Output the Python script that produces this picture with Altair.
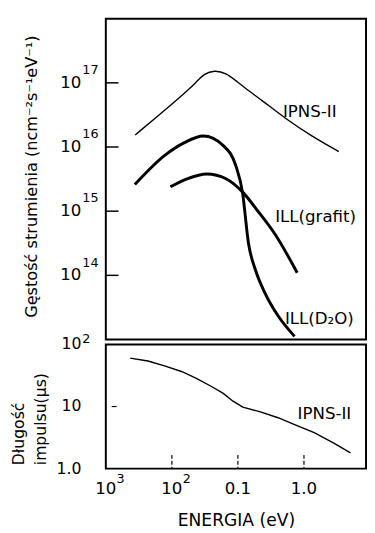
import altair as alt
import pandas as pd

FONT = "DejaVu Sans"

# ---- data (energy in eV) ----
ipns_E = [0.00278, 0.00774, 0.0153, 0.0239, 0.0303, 0.0441, 0.0664, 0.0933, 0.1455, 0.234, 0.514, 1.29, 3.36]
ipns_flux = [1.54e16, 3.72e16, 6.8e16, 1.04e17, 1.37e17, 1.58e17, 1.42e17, 1.08e17, 7.5e16, 5.3e16, 2.81e16, 1.49e16, 8.5e15]

d2o_E = [0.00275, 0.0078, 0.0155, 0.030, 0.060, 0.093, 0.117, 0.145, 0.185, 0.257, 0.41, 0.72]
d2o_flux = [2.6e15, 7.4e15, 1.17e16, 1.48e16, 1.05e16, 5.1e15, 2.0e15, 3.1e14, 1.2e14, 5.3e13, 2.3e13, 1.12e13]

grafit_E = [0.0095, 0.017, 0.034, 0.066, 0.117, 0.204, 0.363, 0.79]
grafit_flux = [2.4e15, 3.2e15, 3.8e15, 3.2e15, 2.0e15, 9.8e14, 4.4e14, 1.1e14]

pulse_E = [0.00234, 0.00434, 0.00774, 0.0143, 0.0239, 0.0398, 0.0600, 0.0843, 0.1186, 0.219, 0.405, 0.722, 1.43, 2.83, 5.06]
pulse_us = [60.3, 54.0, 45.1, 36.3, 28.1, 21.0, 16.3, 12.2, 9.8, 8.2, 6.6, 5.1, 3.8, 2.57, 1.79]

flux_label_text = ["IPNS-II", "ILL(grafit)", "ILL(D\u2082O)"]
flux_label_E = [0.48, 0.366, 0.514]
flux_label_v = [3.5e16, 8.0e14, 2.1e13]

pulse_label_text = ["IPNS-II"]
pulse_label_E = [0.80]
pulse_label_v = [7.6]

# tick labels: mantissa + exponent
flux_ticks = [1e14, 1e15, 1e16, 1e17]
flux_tick_base = ["10", "10", "10", "10"]
flux_tick_exp = ["14", "15", "16", "17"]

pulse_ticks = [1, 10, 100]
pulse_tick_base = ["1.0", "10", "10"]
pulse_tick_exp = ["", "", "2"]

energy_ticks = [0.001, 0.01, 0.1, 1]
energy_tick_base = ["10", "10", "0.1", "1.0"]
energy_tick_exp = ["3", "2", "", ""]
energy_inner_ticks = [0.01, 0.1, 1]

W = 266
H_TOP = 328
H_BOT = 127

xscale = alt.Scale(type="log", domain=[0.001, 8.7], nice=False)
ytop = alt.Scale(type="log", domain=[1e13, 1e18], nice=False)
ybot = alt.Scale(type="log", domain=[1, 100], nice=False)

ipns_df = pd.DataFrame({"E": ipns_E, "v": ipns_flux})
ill_df = pd.concat([
    pd.DataFrame({"E": d2o_E, "v": d2o_flux, "s": "D2O"}),
    pd.DataFrame({"E": grafit_E, "v": grafit_flux, "s": "grafit"}),
])
pulse_df = pd.DataFrame({"E": pulse_E, "v": pulse_us})
flab_df = pd.DataFrame({"E": flux_label_E, "v": flux_label_v, "t": flux_label_text})
plab_df = pd.DataFrame({"E": pulse_label_E, "v": pulse_label_v, "t": pulse_label_text})
ftick_df = pd.DataFrame({"v": flux_ticks, "b": flux_tick_base, "e": flux_tick_exp})
ptick_df = pd.DataFrame({"v": pulse_ticks, "b": pulse_tick_base, "e": pulse_tick_exp})
etick_df = pd.DataFrame({"E": energy_ticks, "b": energy_tick_base, "e": energy_tick_exp})
einner_df = pd.DataFrame({"E": energy_inner_ticks})
pinner_df = pd.DataFrame({"v": [10]})

ytop_axis = alt.Axis(values=flux_ticks, labels=False, ticks=False, domain=False, grid=False,
                     title="G\u0119sto\u015b\u0107 strumienia (ncm\u207b\u00b2s\u207b\u00b9eV\u207b\u00b9)",
                     titleFont=FONT, titleFontSize=16.5, titleFontWeight="normal", titleColor="black",
                     titleX=-84, titleY=161, titleBaseline="top", titleAlign="center", titleAngle=270)

ybot_axis = alt.Axis(values=pulse_ticks, labels=False, ticks=False, domain=False, grid=False,
                     title=["D\u0142ugo\u015b\u0107", "impulsu(\u03bcs)"],
                     titleFont=FONT, titleFontSize=16, titleFontWeight="normal", titleColor="black",
                     titleX=-97, titleY=123, titleBaseline="top", titleAlign="left", titleAngle=270,
                     titleLineHeight=22)

xbot_axis = alt.Axis(values=energy_ticks, labels=False, ticks=False, domain=False, grid=False,
                     title="ENERGIA  (eV)", titleFont=FONT, titleFontSize=17.5, titleFontWeight="normal",
                     titleColor="black", titleY=53, titleBaseline="middle")

# ---------- top panel ----------
ipns_line = alt.Chart(ipns_df).mark_line(color="black", strokeWidth=1.4, interpolate="basis").encode(
    x=alt.X("E:Q", scale=xscale, axis=None),
    y=alt.Y("v:Q", scale=ytop, axis=ytop_axis),
)
ill_lines = alt.Chart(ill_df).mark_line(color="black", strokeWidth=3, interpolate="monotone").encode(
    x=alt.X("E:Q", scale=xscale, axis=None),
    y=alt.Y("v:Q", scale=ytop, axis=ytop_axis),
    detail="s:N",
)
flabels = alt.Chart(flab_df).mark_text(font=FONT, fontSize=17, align="left", baseline="middle", color="black").encode(
    x=alt.X("E:Q", scale=xscale, axis=None),
    y=alt.Y("v:Q", scale=ytop, axis=ytop_axis),
    text="t:N",
)
fticks = alt.Chart(ftick_df).mark_rule(color="black", strokeWidth=1.5).encode(
    y=alt.Y("v:Q", scale=ytop, axis=ytop_axis),
    x=alt.value(0), x2=alt.value(13),
)
fbase = alt.Chart(ftick_df).mark_text(font=FONT, fontSize=17, align="right", baseline="middle", color="black").encode(
    y=alt.Y("v:Q", scale=ytop, axis=ytop_axis),
    x=alt.value(-25), text="b:N",
)
fexp = alt.Chart(ftick_df).mark_text(font=FONT, fontSize=13, align="left", baseline="middle", color="black", dy=-13).encode(
    y=alt.Y("v:Q", scale=ytop, axis=ytop_axis),
    x=alt.value(-24), text="e:N",
)
top = alt.layer(ipns_line, ill_lines, flabels, fticks, fbase, fexp).properties(width=W, height=H_TOP)

# ---------- bottom panel ----------
pulse_line = alt.Chart(pulse_df).mark_line(color="black", strokeWidth=1.4, interpolate="linear").encode(
    x=alt.X("E:Q", scale=xscale, axis=xbot_axis),
    y=alt.Y("v:Q", scale=ybot, axis=ybot_axis),
)
plabels = alt.Chart(plab_df).mark_text(font=FONT, fontSize=17, align="left", baseline="middle", color="black").encode(
    x=alt.X("E:Q", scale=xscale, axis=xbot_axis),
    y=alt.Y("v:Q", scale=ybot, axis=ybot_axis),
    text="t:N",
)
pticks = alt.Chart(pinner_df).mark_rule(color="black", strokeWidth=1.2).encode(
    y=alt.Y("v:Q", scale=ybot, axis=ybot_axis),
    x=alt.value(6), x2=alt.value(11),
)
eticks = alt.Chart(einner_df).mark_rule(color="black", strokeWidth=1.2, strokeDash=[4, 2]).encode(
    x=alt.X("E:Q", scale=xscale, axis=xbot_axis),
    y=alt.value(H_BOT - 14), y2=alt.value(H_BOT),
)
pbase = alt.Chart(ptick_df).mark_text(font=FONT, fontSize=16, align="right", baseline="middle", color="black").encode(
    y=alt.Y("v:Q", scale=ybot, axis=ybot_axis),
    x=alt.value(-25), text="b:N",
)
pexp = alt.Chart(ptick_df).mark_text(font=FONT, fontSize=13, align="left", baseline="middle", color="black", dy=-5).encode(
    y=alt.Y("v:Q", scale=ybot, axis=ybot_axis),
    x=alt.value(-24), text="e:N",
)
ebase = alt.Chart(etick_df).mark_text(font=FONT, fontSize=17, align="center", baseline="middle", color="black").encode(
    x=alt.X("E:Q", scale=xscale, axis=xbot_axis),
    y=alt.value(H_BOT + 21), text="b:N",
)
eexp = alt.Chart(etick_df).mark_text(font=FONT, fontSize=13, align="left", baseline="middle", color="black", dx=11).encode(
    x=alt.X("E:Q", scale=xscale, axis=xbot_axis),
    y=alt.value(H_BOT + 11), text="e:N",
)
bottom = alt.layer(pulse_line, plabels, pticks, eticks, pbase, pexp, ebase, eexp).properties(width=W, height=H_BOT)

chart = alt.vconcat(top, bottom, spacing=5, bounds="flush").properties(
    padding={"left": 2, "top": 4, "right": 0, "bottom": 2},
    background="white",
).configure_view(stroke="black", strokeWidth=2)

chart.save("out.html", embed_options={"renderer": "svg", "actions": False})
